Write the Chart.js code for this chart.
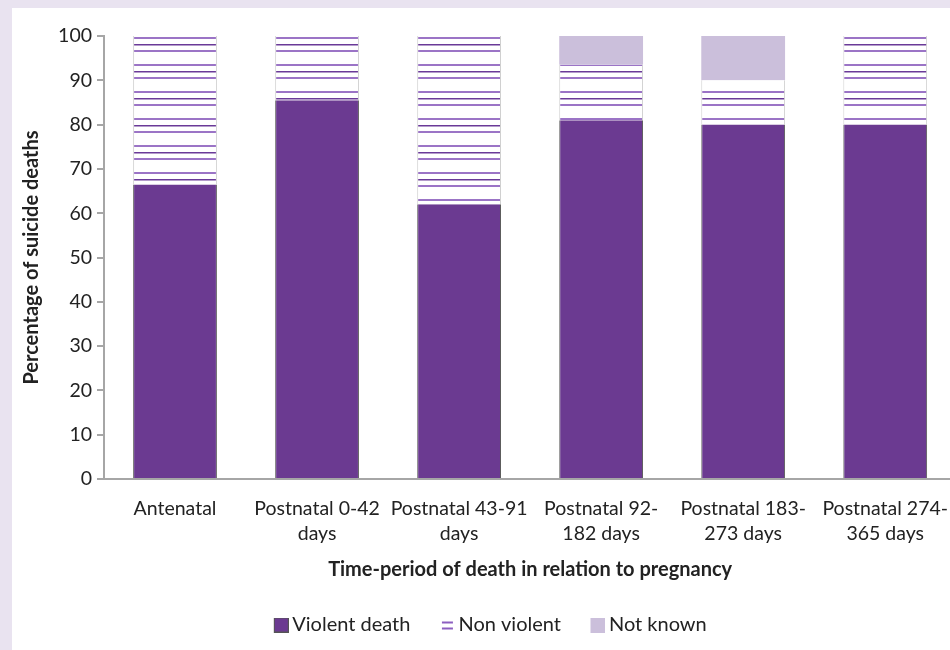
<!DOCTYPE html>
<html>
<head>
<meta charset="utf-8">
<script src="https://cdn.jsdelivr.net/npm/chart.js@4/dist/chart.umd.min.js"></script>
<style>
	html, body { margin: 0; padding: 0; overflow: hidden; background: #e9e3f0; }
	#panel { position: absolute; left: 12px; top: 8px; width: 945px; height: 642px; background: #fff; }
	#chart { display: block; }
</style>
</head>
<body>
<div id="panel"><canvas id="chart" width="945" height="642"></canvas></div>
<script>
const categories = [
	'Antenatal',
	['Postnatal 0-42', 'days'],
	['Postnatal 43-91', 'days'],
	['Postnatal 92-', '182 days'],
	['Postnatal 183-', '273 days'],
	['Postnatal 274-', '365 days']
];
const violent = [66.5, 85.5, 62, 81, 80, 80];
const nonViolent = [33.5, 14.5, 38, 12.5, 10, 20];
const notKnown = [0, 0, 0, 6.5, 10, 0];
const yTicks = [0, 10, 20, 30, 40, 50, 60, 70, 80, 90, 100];

const FONT = 'Lato';
const violetColor = '#6b3a91';
const unknownColor = '#cbbfdb';

function makeHatch() {
	const c = document.createElement('canvas');
	c.width = 8; c.height = 27;
	const g = c.getContext('2d');
	g.fillStyle = '#ffffff';
	g.fillRect(0, 0, 8, 27);
	g.fillStyle = '#9b74c6';
	g.fillRect(0, 2, 8, 2);
	g.fillStyle = '#6a3a98';
	g.fillRect(0, 9, 8, 1.5);
	g.fillStyle = '#9b74c6';
	g.fillRect(0, 15, 8, 2);
	const ctx = document.getElementById('chart').getContext('2d');
	return ctx.createPattern(c, 'repeat');
}

// icon canvas is wider than the mark so the mark sits close to the label text
function legendIcon(kind) {
	const c = document.createElement('canvas');
	c.width = 33; c.height = 15;
	const g = c.getContext('2d');
	const ox = 18;
	if (kind === 'violent') {
		g.fillStyle = '#555';
		g.fillRect(ox, 0, 15, 15);
		g.fillStyle = violetColor;
		g.fillRect(ox + 1, 1, 13, 13);
	} else if (kind === 'non') {
		g.fillStyle = '#8c5fc0';
		g.fillRect(ox + 2, 4, 11, 2);
		g.fillRect(ox + 2, 10, 11, 2);
	} else {
		g.fillStyle = unknownColor;
		g.fillRect(ox, 0, 15, 15);
	}
	return c;
}

const hatch = makeHatch();
const icons = [legendIcon('violent'), legendIcon('non'), legendIcon('unknown')];

new Chart(document.getElementById('chart'), {
	type: 'bar',
	data: {
		labels: categories,
		datasets: [
			{
				label: 'Violent death',
				data: violent,
				backgroundColor: violetColor,
				borderColor: '#5c5c5c',
				borderWidth: {left: 1, right: 1, top: 0, bottom: 0},
				borderSkipped: false
			},
			{
				label: 'Non violent',
				data: nonViolent,
				backgroundColor: hatch,
				borderColor: '#d0d0d0',
				borderWidth: {left: 1, right: 1, top: 0, bottom: 0},
				borderSkipped: false
			},
			{
				label: 'Not known',
				data: notKnown,
				backgroundColor: unknownColor,
				borderWidth: 0
			}
		]
	},
	options: {
		responsive: false,
		animation: false,
		datasets: { bar: { barPercentage: 0.59, categoryPercentage: 1 } },
		layout: { padding: { top: 28, right: 0, bottom: 5, left: 0 } },
		plugins: {
			tooltip: { enabled: false },
			legend: {
				position: 'bottom',
				labels: {
					usePointStyle: true,
					color: '#222',
					font: { family: FONT, size: 20 },
					padding: 18,
					generateLabels: (chart) => chart.data.datasets.map((ds, i) => ({
						text: ds.label,
						pointStyle: icons[i],
						datasetIndex: i,
						fontColor: '#222',
						lineWidth: 0,
						hidden: false
					}))
				}
			}
		},
		scales: {
			x: {
				stacked: true,
				grid: { display: false },
				border: { display: true, color: '#a6a6a6', width: 2 },
				ticks: { color: '#222', font: { family: FONT, size: 19.5, lineHeight: 1.28 }, maxRotation: 0, autoSkip: false, padding: 9 },
				title: {
					display: true,
					text: 'Time-period of death in relation to pregnancy',
					color: '#222',
					font: { family: FONT, size: 20, weight: 'bold' },
					padding: { top: 3, bottom: 15 }
				}
			},
			y: {
				stacked: true,
				min: 0,
				max: 100,
				afterBuildTicks: (scale) => { scale.ticks = yTicks.map(v => ({ value: v })); },
				afterFit: (scale) => { scale.width = 92; },
				grid: { drawOnChartArea: false, drawTicks: true, tickLength: 7, color: '#a6a6a6', lineWidth: 2 },
				border: { display: true, color: '#a6a6a6', width: 2 },
				ticks: { color: '#222', font: { family: FONT, size: 19.5 }, padding: 5 },
				title: {
					display: true,
					text: 'Percentage of suicide deaths',
					color: '#222',
					font: { family: FONT, size: 20, weight: 'bold' },
					padding: { top: 8, bottom: 4 }
				}
			}
		}
	}
});
</script>
</body>
</html>
